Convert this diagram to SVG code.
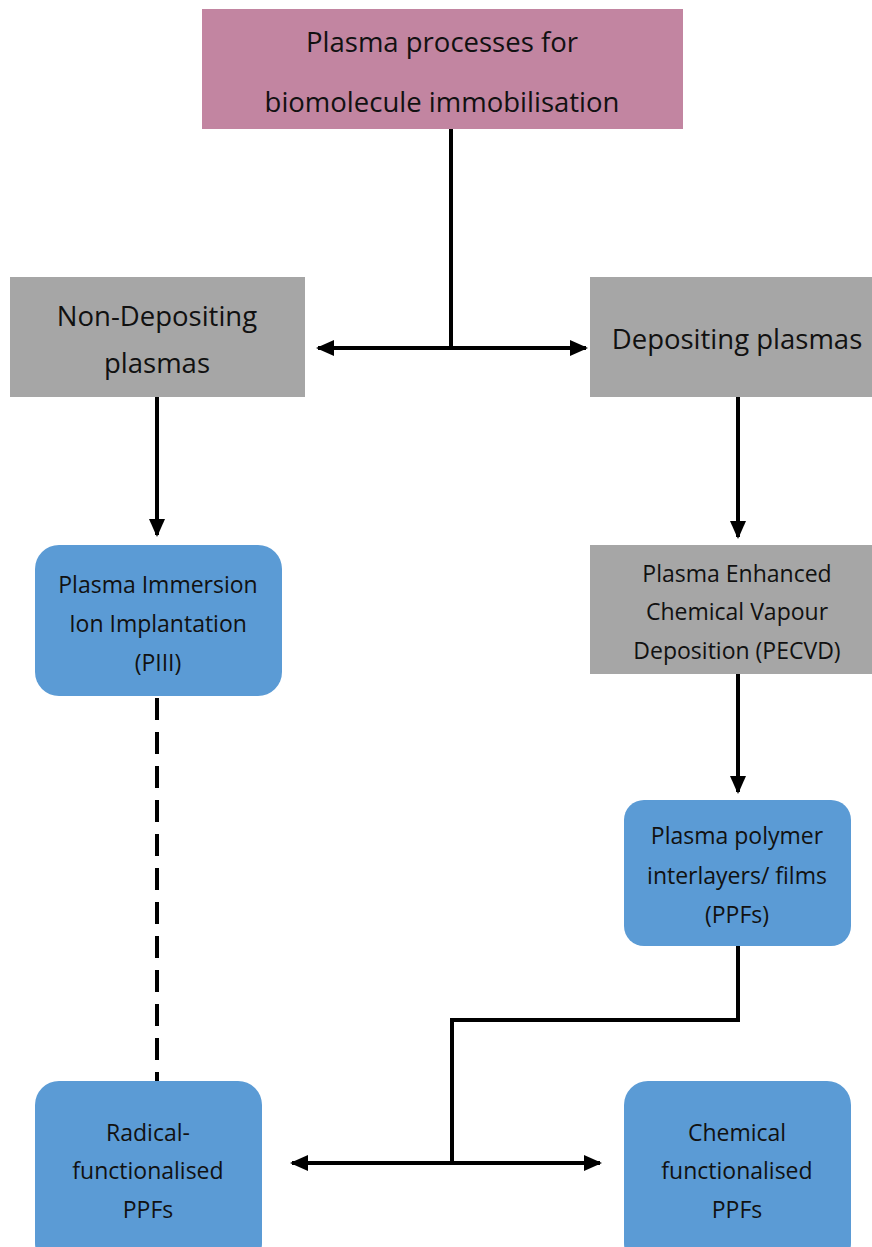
<svg xmlns="http://www.w3.org/2000/svg" width="872" height="1247" viewBox="0 0 872 1247">
  <defs>
    <marker id="arrow" markerUnits="userSpaceOnUse" markerWidth="18" markerHeight="18" refX="16" refY="8" orient="auto-start-reverse" viewBox="0 0 18 16">
      <path d="M0,0 L18,8 L0,16 Z" fill="#000"/>
    </marker>
    <style>
      .t { font-family: "Open Sans", "Noto Sans", "Liberation Sans", sans-serif; fill: #111; text-anchor: middle; }
      .big { font-size: 27.5px; }
      .small { font-size: 23px; }
      .line { stroke: #000; stroke-width: 4; fill: none; }
      .dash { stroke-dasharray: 22 12; }
      .gray { fill: #A6A6A6; }
      .blue { fill: #5B9BD5; }
      .pink { fill: #C285A1; }
    </style>
  </defs>
  <rect width="872" height="1247" fill="#fff"/>

  <g id="connectors">
    <path class="line" d="M451,129 V348"/>
    <path class="line" d="M451,348 H318" marker-end="url(#arrow)"/>
    <path class="line" d="M451,348 H586" marker-end="url(#arrow)"/>
    <path class="line" d="M157,397 V535" marker-end="url(#arrow)"/>
    <path class="line" d="M738,397 V537" marker-end="url(#arrow)"/>
    <path class="line" d="M738,674 V792" marker-end="url(#arrow)"/>
    <path class="line dash" d="M157,698 V1081"/>
    <path class="line" d="M738,946 V1020 H452 V1163"/>
    <path class="line" d="M452,1163 H292" marker-end="url(#arrow)"/>
    <path class="line" d="M452,1163 H600" marker-end="url(#arrow)"/>
  </g>

  <g id="root">
    <rect class="pink" x="202" y="9" width="481" height="120"/>
    <text class="t big" x="442" y="52">Plasma processes for</text>
    <text class="t big" x="442" y="112">biomolecule immobilisation</text>
  </g>

  <g id="non-depositing">
    <rect class="gray" x="10" y="277" width="295" height="120"/>
    <text class="t big" x="157" y="326">Non-Depositing</text>
    <text class="t big" x="157" y="373">plasmas</text>
  </g>

  <g id="depositing">
    <rect class="gray" x="590" y="277" width="282" height="120"/>
    <text class="t big" x="737" y="349">Depositing plasmas</text>
  </g>

  <g id="piii">
    <rect class="blue" x="35" y="545" width="247" height="151" rx="24"/>
    <text class="t small" x="158" y="593">Plasma Immersion</text>
    <text class="t small" x="158" y="632">Ion Implantation</text>
    <text class="t small" x="158" y="671">(PIII)</text>
  </g>

  <g id="pecvd">
    <rect class="gray" x="590" y="545" width="282" height="129"/>
    <text class="t small" x="737" y="582">Plasma Enhanced</text>
    <text class="t small" x="737" y="620">Chemical Vapour</text>
    <text class="t small" x="737" y="659">Deposition (PECVD)</text>
  </g>

  <g id="ppf">
    <rect class="blue" x="624" y="800" width="227" height="146" rx="20"/>
    <text class="t small" x="737" y="844">Plasma polymer</text>
    <text class="t small" x="737" y="884">interlayers/ films</text>
    <text class="t small" x="737" y="923">(PPFs)</text>
  </g>

  <g id="radical">
    <rect class="blue" x="35" y="1081" width="227" height="186" rx="24"/>
    <text class="t small" x="148" y="1141">Radical-</text>
    <text class="t small" x="148" y="1179">functionalised</text>
    <text class="t small" x="148" y="1218">PPFs</text>
  </g>

  <g id="chemical">
    <rect class="blue" x="624" y="1081" width="227" height="186" rx="24"/>
    <text class="t small" x="737" y="1141">Chemical</text>
    <text class="t small" x="737" y="1179">functionalised</text>
    <text class="t small" x="737" y="1218">PPFs</text>
  </g>
</svg>
